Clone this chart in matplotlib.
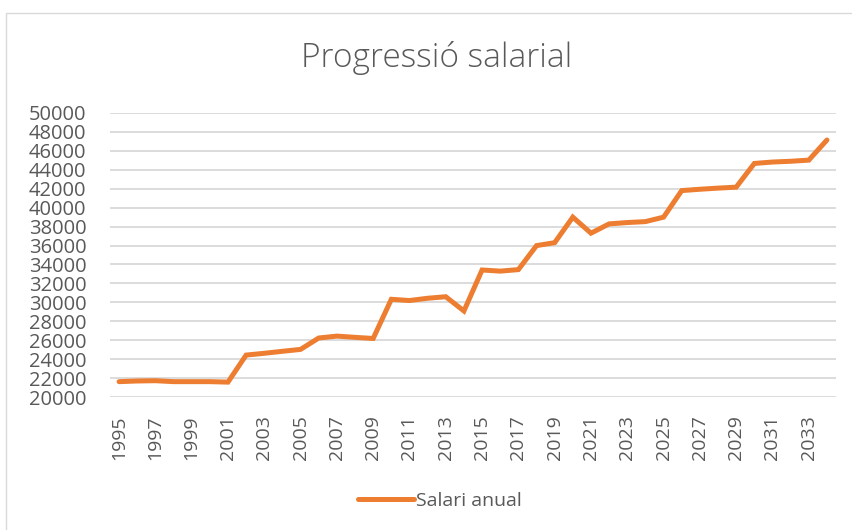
import matplotlib
matplotlib.use("Agg")
import matplotlib.pyplot as plt
from matplotlib.patches import Rectangle

plt.rcParams["font.family"] = ["Open Sans", "DejaVu Sans"]

years = list(range(1995, 2035))
salary = [21650, 21720, 21750, 21650, 21650, 21650, 21600, 24450, 24640, 24850,
          25050, 26250, 26450, 26320, 26200, 30330, 30200, 30440, 30600, 29100,
          33420, 33300, 33460, 35990, 36300, 38990, 37300, 38280, 38420, 38520,
          38990, 41790, 41930, 42050, 42150, 44650, 44800, 44880, 45000, 47120]
yticks = list(range(20000, 50001, 2000))

TEXT = "#595959"
GRID = "#d9d9d9"
ORANGE = "#ED7D31"

W, H = 853, 530
fig = plt.figure(figsize=(W / 100, H / 100), dpi=100)
fig.patches.append(Rectangle((6 / W, -0.1), 1.2, 1 - 13 / H + 0.1,
                             transform=fig.transFigure, fill=False,
                             edgecolor=GRID, lw=1))

ax = fig.add_axes([110 / W, 1 - 397.3 / H, (836 - 110) / W, (397.3 - 112.7) / H])
x = list(range(len(years)))
ax.plot(x, salary, color=ORANGE, lw=3.6, solid_capstyle="round",
        solid_joinstyle="miter", label="Salari anual", zorder=3)

ax.set_xlim(-0.5, len(years) - 0.5)
ax.set_ylim(20000, 50000)
ax.set_yticks(yticks)
ax.set_yticklabels([str(v) for v in yticks])
ax.set_xticks(x[::2])
ax.set_xticklabels([str(y) for y in years[::2]], rotation=90)
ax.tick_params(axis="y", length=0, pad=17, labelsize=14.5, labelcolor=TEXT)
ax.tick_params(axis="x", length=0, pad=13, labelsize=14, labelcolor=TEXT)
ax.grid(axis="y", color=GRID, lw=1.3)
ax.set_axisbelow(True)
for s in ax.spines.values():
    s.set_visible(False)

fig.text(437 / W, 1 - 58 / H, "Progressió salarial", ha="center", va="center",
         fontsize=24, fontweight="light", color=TEXT)

leg = fig.legend(loc="center", bbox_to_anchor=(440 / W, 1 - 501 / H),
                 frameon=False, fontsize=14, handlelength=2.9, handletextpad=0.1,
                 labelcolor=TEXT)

fig.savefig("out.png", dpi=100)
